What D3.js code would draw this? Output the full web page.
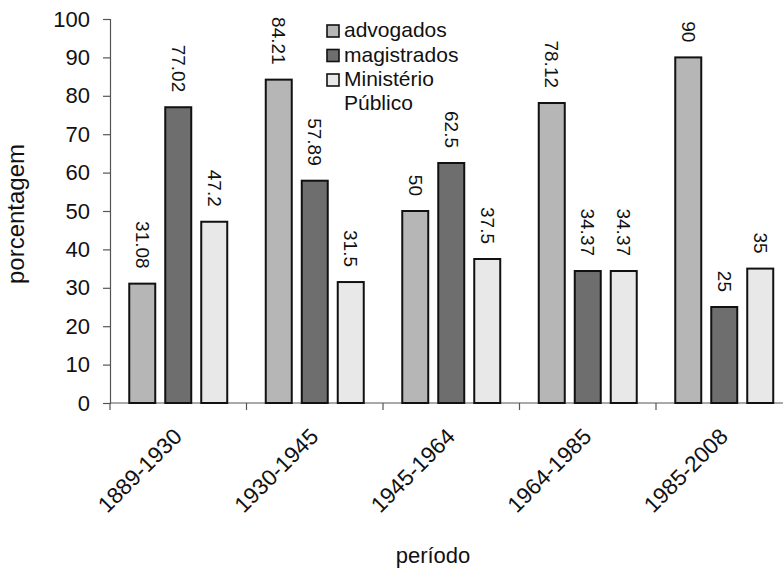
<!DOCTYPE html>
<html>
<head>
<meta charset="utf-8">
<script src="https://cdn.jsdelivr.net/npm/d3@7"></script>
<style>
  html, body { margin: 0; padding: 0; background: #fff; }
  svg { display: block; font-family: Arial, "Liberation Sans", sans-serif; }
</style>
</head>
<body>
<svg id="chart" width="783" height="571"></svg>
<script>
// Periods on the category axis
const periods = ["1889-1930", "1930-1945", "1945-1964", "1964-1985", "1985-2008"];
// Series names (legend order)
const seriesNames = ["advogados", "magistrados", "Ministério Público"];
// Percentages per series, one value per period
const advogados   = [31.08, 84.21, 50, 78.12, 90];
const magistrados = [77.02, 57.89, 62.5, 34.37, 25];
const ministerio  = [47.2, 31.5, 37.5, 34.37, 35];
// Value-axis ticks
const yTicks = [0, 10, 20, 30, 40, 50, 60, 70, 80, 90, 100];

const seriesValues = [advogados, magistrados, ministerio];
const fills = ["#b6b6b6", "#6e6e6e", "#e8e8e8"];

const svg = d3.select("#chart");

// Plot area: the category axis runs past the right edge of the page
const plotLeft = 110, plotRight = 792.5, plotTop = 19, plotBottom = 403;

const x0 = d3.scaleBand().domain(periods).range([plotLeft, plotRight]).paddingInner(0).paddingOuter(0);
const x1 = d3.scaleBand().domain(seriesNames).range([0, x0.bandwidth()])
  .paddingInner(10 / 36).paddingOuter(0.535);
const y = d3.scaleLinear().domain([0, 100]).range([plotBottom, plotTop]);

const axisColor = "#555";

// Y axis
const yAxis = svg.append("g").attr("transform", `translate(${plotLeft},0)`)
  .call(d3.axisLeft(y).tickValues(yTicks).tickSize(7).tickPadding(13).tickFormat(d3.format("d")));
yAxis.select(".domain").attr("stroke", axisColor).attr("stroke-width", 1.2);
yAxis.selectAll(".tick line").attr("stroke", axisColor).attr("stroke-width", 1.2);
yAxis.selectAll(".tick text").attr("font-size", 22).attr("fill", "#111")
  .attr("font-family", "Arial, 'Liberation Sans', sans-serif");

// X axis: ticks at the band boundaries
const boundaries = periods.map(p => x0(p)).concat([x0(periods[periods.length - 1]) + x0.bandwidth()]);
const xAxisG = svg.append("g");
xAxisG.append("line")
  .attr("x1", plotLeft).attr("x2", 800).attr("y1", plotBottom).attr("y2", plotBottom)
  .attr("stroke", axisColor).attr("stroke-width", 1.2);
xAxisG.selectAll("line.tick").data(boundaries).enter().append("line")
  .attr("class", "tick")
  .attr("x1", d => d).attr("x2", d => d).attr("y1", plotBottom).attr("y2", plotBottom + 7)
  .attr("stroke", axisColor).attr("stroke-width", 1.2);
xAxisG.selectAll("text").data(periods).enter().append("text")
  .attr("transform", d => `translate(${x0(d) + x0.bandwidth() / 2 + 5},${plotBottom + 35}) rotate(-45)`)
  .attr("text-anchor", "end")
  .attr("font-size", 22.5).attr("fill", "#111")
  .text(d => d);

// Bars
const groups = svg.append("g").selectAll("g").data(periods).enter().append("g")
  .attr("transform", d => `translate(${x0(d)},0)`);

groups.each(function (p, i) {
  const g = d3.select(this);
  seriesNames.forEach((s, k) => {
    const v = seriesValues[k][i];
    g.append("rect")
      .attr("x", x1(s)).attr("y", y(v))
      .attr("width", x1.bandwidth()).attr("height", y(0) - y(v))
      .attr("fill", fills[k]).attr("stroke", "#111").attr("stroke-width", 2);
    // Value label, rotated to read top-to-bottom, above the bar
    const cx = x1(s) + x1.bandwidth() / 2;
    g.append("text")
      .attr("transform", `translate(${cx},${y(v) - 15}) rotate(90)`)
      .attr("text-anchor", "end")
      .attr("dy", "0.35em")
      .attr("font-size", 19).attr("fill", "#111")
      .text(String(v));
  });
});

// Legend
const legend = svg.append("g").attr("transform", "translate(327,25)");
const legendLines = [["advogados"], ["magistrados"], ["Ministério", "Público"]];
legendLines.forEach((lines, k) => {
  const row = legend.append("g").attr("transform", `translate(0,${k * 24.5})`);
  row.append("rect").attr("x", 0).attr("y", 0).attr("width", 12).attr("height", 12)
    .attr("fill", fills[k]).attr("stroke", "#111").attr("stroke-width", 1.6);
  lines.forEach((t, j) => {
    row.append("text").attr("x", 17).attr("y", 12 + j * 24)
      .attr("font-size", 21).attr("fill", "#111").text(t);
  });
});

// Axis titles
svg.append("text")
  .attr("transform", "translate(24,214) rotate(-90)")
  .attr("text-anchor", "middle").attr("font-size", 24).attr("fill", "#111")
  .text("porcentagem");
svg.append("text")
  .attr("x", 433).attr("y", 563)
  .attr("text-anchor", "middle").attr("font-size", 22).attr("fill", "#111")
  .text("período");
</script>
</body>
</html>
